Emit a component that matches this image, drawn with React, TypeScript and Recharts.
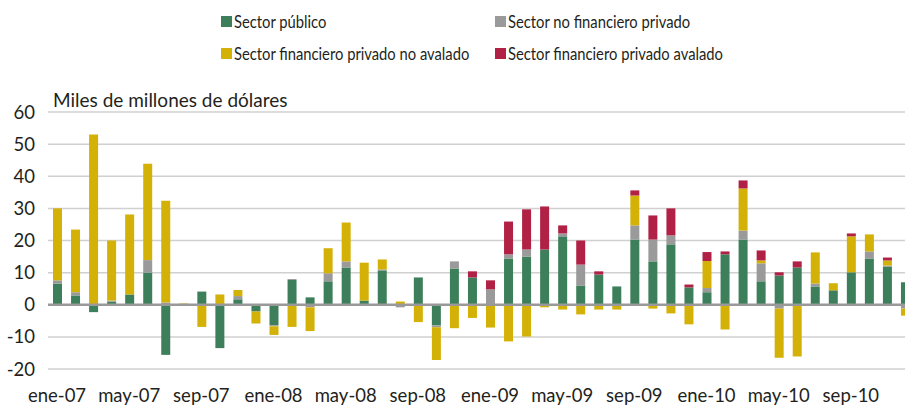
import { BarChart, Bar, XAxis, YAxis, CartesianGrid, ReferenceLine } from 'recharts';

const months = [
  'ene-07', 'feb-07', 'mar-07', 'abr-07', 'may-07', 'jun-07', 'jul-07', 'ago-07', 'sep-07', 'oct-07', 'nov-07', 'dic-07',
  'ene-08', 'feb-08', 'mar-08', 'abr-08', 'may-08', 'jun-08', 'jul-08', 'ago-08', 'sep-08', 'oct-08', 'nov-08', 'dic-08',
  'ene-09', 'feb-09', 'mar-09', 'abr-09', 'may-09', 'jun-09', 'jul-09', 'ago-09', 'sep-09', 'oct-09', 'nov-09', 'dic-09',
  'ene-10', 'feb-10', 'mar-10', 'abr-10', 'may-10', 'jun-10', 'jul-10', 'ago-10', 'sep-10', 'oct-10', 'nov-10', 'dic-10',
];

// Sector público
const publico = [
  6.6, 2.9, -2.3, 1.0, 3.2, 10.0, -15.6, 0, 4.1, -13.5, 1.7, -2.1,
  -6.4, 7.7, 2.3, 7.3, 11.6, 1.3, 10.7, 0, 8.5, -6.4, 11.3, 8.5,
  0, 14.4, 15.0, 17.2, 21.3, 6.0, 9.4, 5.7, 20.3, 13.5, 18.8, 5.4,
  3.9, 15.7, 20.3, 7.3, 9.1, 11.6, 5.7, 4.5, 10.1, 14.4, 11.9, 7.0,
];

// Sector no financiero privado
const noFinanciero = [
  1.0, 1.0, 0, 0.3, 0, 3.9, 0.7, -0.3, 0, 0, 1.0, 0,
  -0.3, 0.3, -0.8, 2.5, 1.9, 0, 0.3, -0.8, 0, -0.6, 2.2, 0,
  4.8, 1.3, 2.2, 0, 0.9, 6.5, 0, 0, 4.4, 6.8, 2.8, 0,
  1.3, 0, 2.8, 5.6, -1.2, 0, 0.9, 0, 0, 2.2, 0.3, -1.2,
];

// Sector financiero privado no avalado
const noAvalado = [
  22.4, 19.5, 53.0, 18.7, 24.9, 30.0, 31.7, 0.4, -6.9, 3.2, 1.9, -3.7,
  -2.7, -6.9, -7.4, 7.8, 12.1, 11.8, 3.1, 1.0, -5.4, -10.2, -7.3, -4.1,
  -7.1, -11.4, -9.9, -0.8, -1.5, -3.0, -1.5, -1.5, 9.3, -1.2, -2.7, -6.1,
  8.4, -7.7, 13.1, 0.9, -15.3, -16.1, 9.7, 2.2, 11.2, 5.3, 1.6, -2.2,
];

// Sector financiero privado avalado
const avalado = [
  0, 0, 0, 0, 0, 0, 0, 0, 0, 0, 0, 0,
  0, 0, 0, 0, 0, 0, 0, 0, 0, 0, 0, 1.9,
  2.8, 10.2, 12.5, 13.4, 2.5, 7.5, 1.0, 0, 1.6, 7.5, 8.4, 0.9,
  2.8, 0.9, 2.5, 3.1, 1.0, 1.9, 0, 0, 0.9, 0, 0.9, 0,
];

const yTicks = [-20, -10, 0, 10, 20, 30, 40, 50, 60];

const series = [
  { key: 'publico', name: 'Sector público', color: '#3d7f5a' },
  { key: 'noFinanciero', name: 'Sector no financiero privado', color: '#9a9a9a' },
  { key: 'noAvalado', name: 'Sector financiero privado no avalado', color: '#d4b106' },
  { key: 'avalado', name: 'Sector financiero privado avalado', color: '#b02145' },
];

const data = months.map((m, i) => ({
  month: m,
  publico: publico[i],
  noFinanciero: noFinanciero[i],
  noAvalado: noAvalado[i],
  avalado: avalado[i],
}));

const FONT = 'Lato, "Open Sans", sans-serif';
const TEXT = '#231f20';

const legendPos = [
  { left: 221, top: 10 },
  { left: 495, top: 10 },
  { left: 221, top: 42 },
  { left: 495, top: 42 },
];

export default function App() {
  return (
    <div style={{ position: 'absolute', left: 0, top: 0, width: 905, height: 408, overflow: 'hidden', background: '#fff', fontFamily: FONT }}>
      {series.map((s, i) => (
        <div
          key={s.key}
          style={{
            position: 'absolute',
            left: legendPos[i].left,
            top: legendPos[i].top,
            display: 'flex',
            alignItems: 'center',
            fontSize: 18,
            lineHeight: '22px',
            color: TEXT,
            whiteSpace: 'nowrap',
          }}
        >
          <span style={{ display: 'inline-block', width: 11, height: 11, background: s.color, marginRight: 2 }} />
          <span style={{ display: 'inline-block', transform: 'scaleX(0.82)', transformOrigin: 'left center' }}>{s.name}</span>
        </div>
      ))}
      <div style={{ position: 'absolute', left: 53, top: 89, fontSize: 19, lineHeight: '22px', color: TEXT, whiteSpace: 'nowrap' }}>
        Miles de millones de dólares
      </div>
      <div style={{ position: 'absolute', left: 0, top: 0 }}>
        <BarChart
          width={914}
          height={408}
          data={data}
          stackOffset="sign"
          barSize={9}
          margin={{ top: 112, right: 0, left: 0, bottom: 0 }}
        >
          <CartesianGrid vertical={false} stroke="#d0d0d0" strokeWidth={1.5} />
          <XAxis
            dataKey="month"
            interval={3}
            axisLine={false}
            tickLine={false}
            tickMargin={14}
            height={39}
            tick={{ fontSize: 18.5, fill: TEXT, fontFamily: FONT }}
          />
          <YAxis
            width={48}
            domain={[-20, 60]}
            ticks={yTicks}
            axisLine={false}
            tickLine={false}
            tickMargin={7}
            tick={{ fontSize: 18.5, fill: TEXT, fontFamily: FONT }}
          />
          {series.map((s) => (
            <Bar key={s.key} dataKey={s.key} name={s.name} stackId="a" fill={s.color} isAnimationActive={false} />
          ))}
          <ReferenceLine y={0} stroke="#999999" strokeWidth={2.5} />
        </BarChart>
      </div>
    </div>
  );
}
